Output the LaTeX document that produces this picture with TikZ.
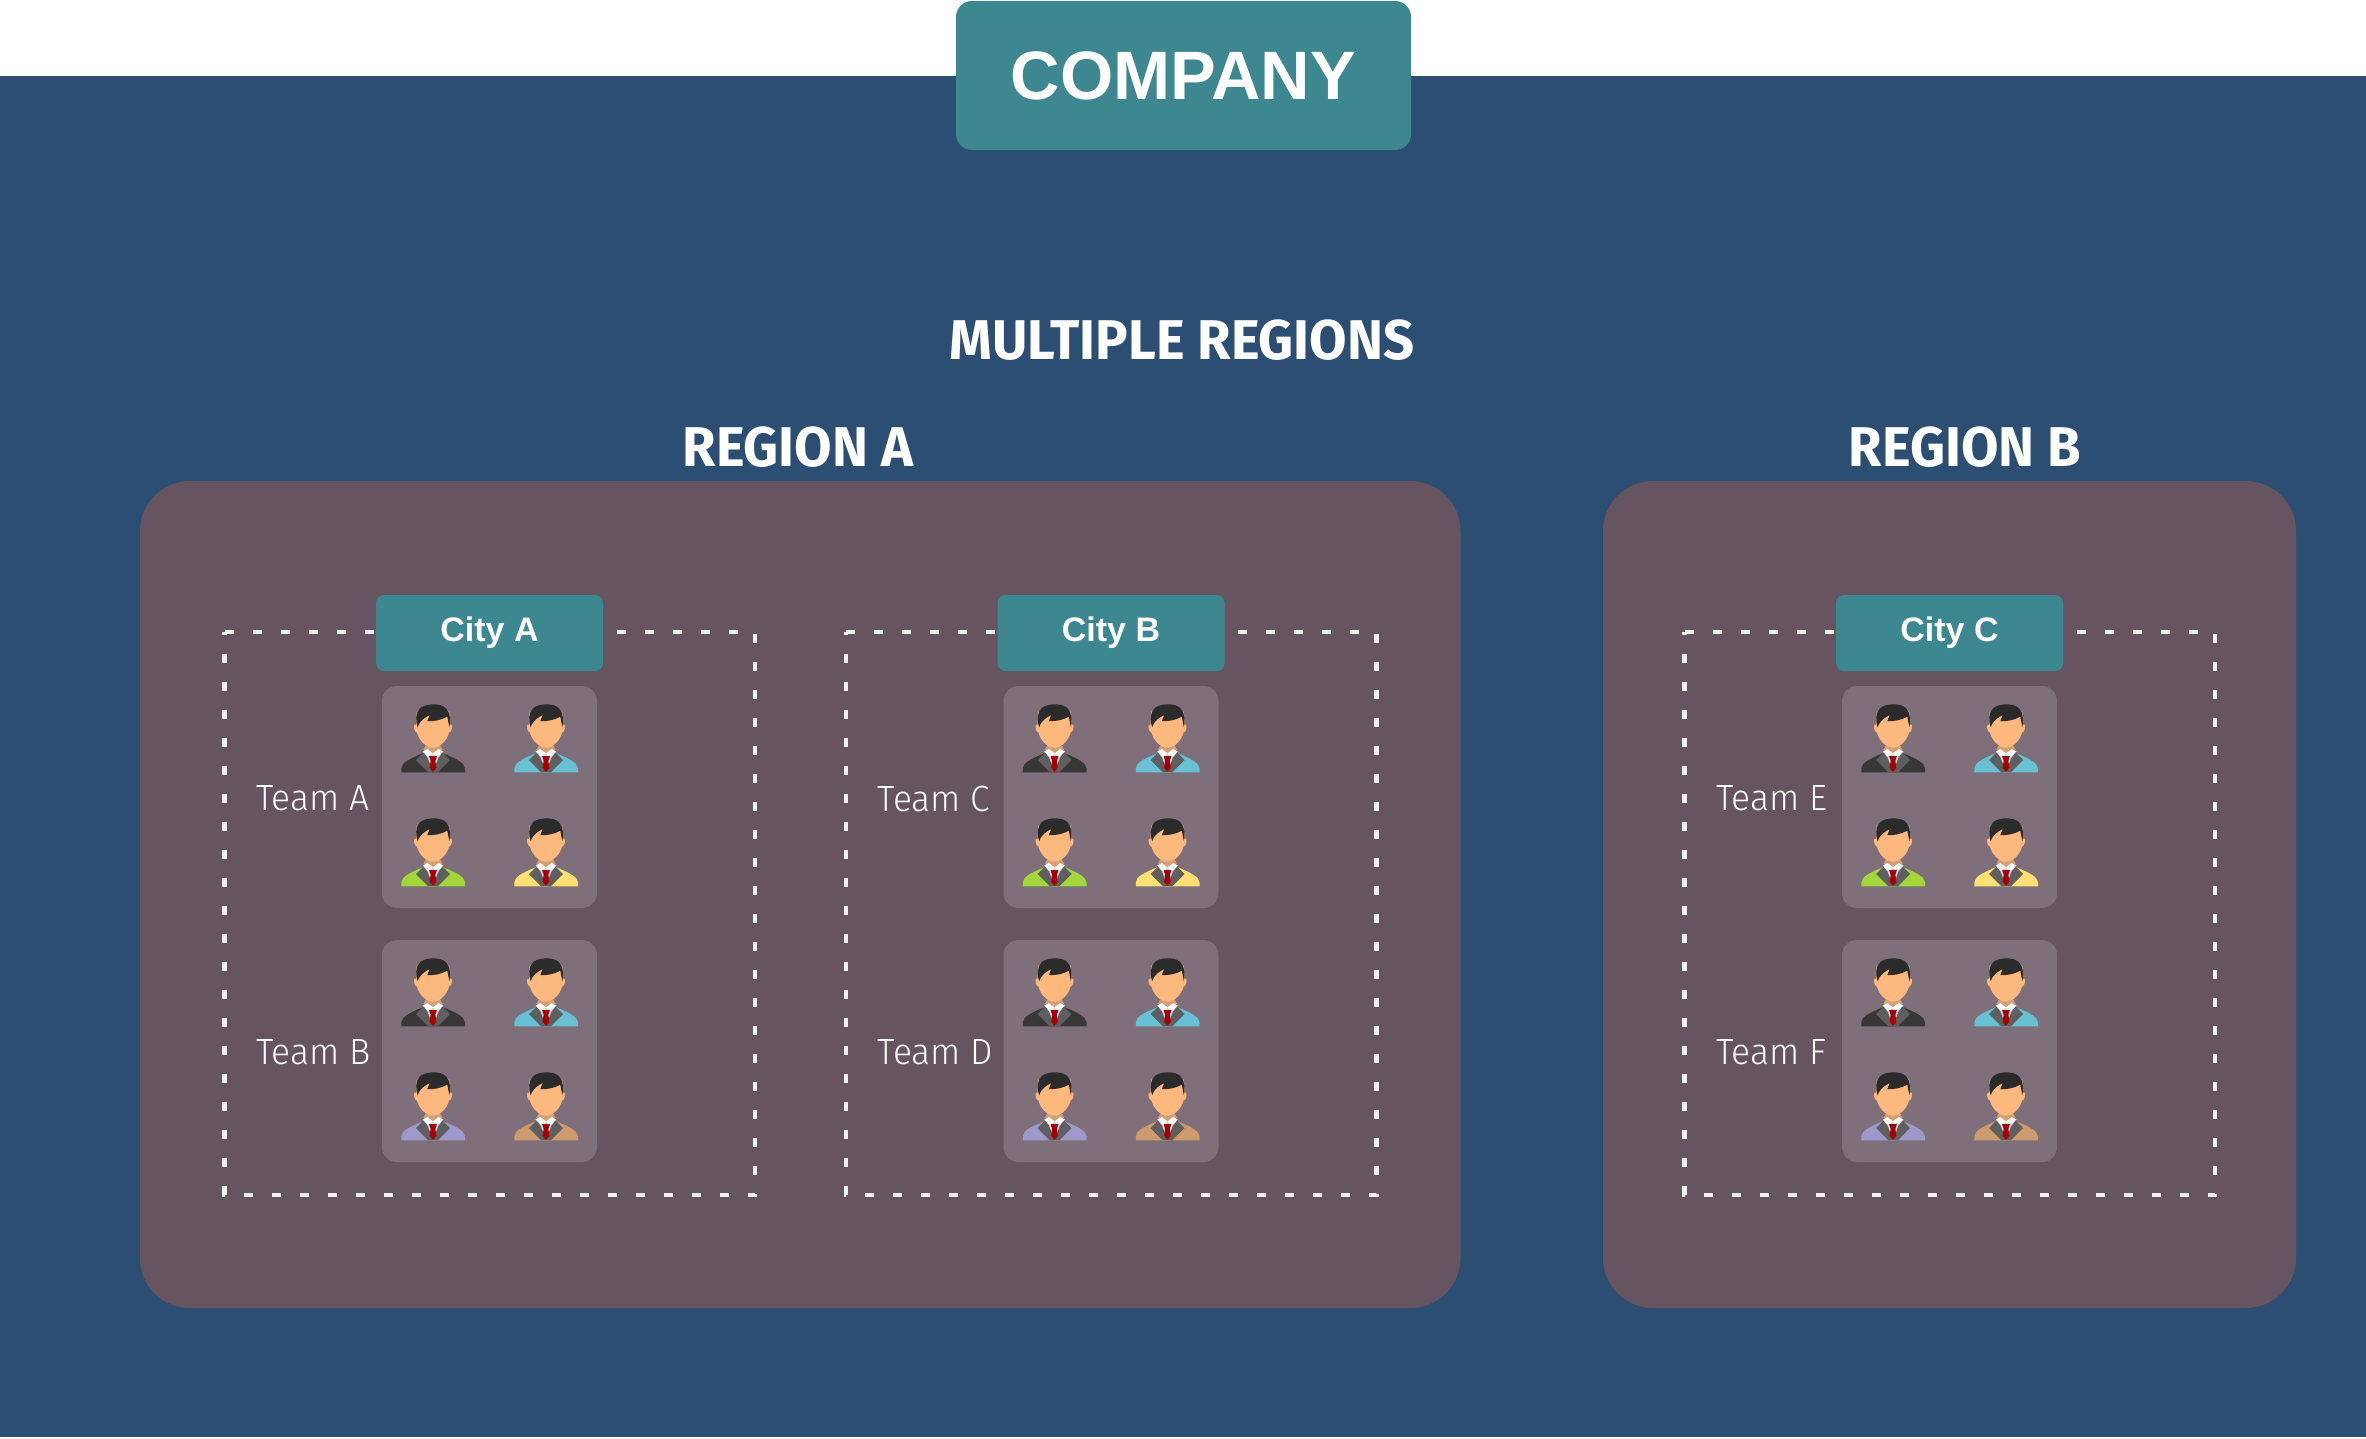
\documentclass[tikz,border=0pt]{standalone}
\usepackage{fontspec}
\setmainfont{Liberation Sans}
\newfontfamily\headfont{Fira Sans}[BoldFont={Fira Sans Bold},FakeStretch=0.97]
\newfontfamily\lightfont{Fira Sans Light}[FakeStretch=0.97]
\definecolor{bgblue}{HTML}{2C4E72}
\definecolor{regionc}{HTML}{665560}
\definecolor{cardc}{HTML}{7F6F7A}
\definecolor{tealc}{HTML}{3D8890}
\definecolor{dashc}{HTML}{F2F2F2}
\definecolor{suitdark}{HTML}{383637}
\definecolor{suitblue}{HTML}{67C0D4}
\definecolor{suitgreen}{HTML}{A2D639}
\definecolor{suityellow}{HTML}{FFE173}
\definecolor{suitpurple}{HTML}{9D99CC}
\definecolor{suittan}{HTML}{CE9B6F}
\definecolor{hairc}{HTML}{2B2B2B}
\definecolor{facec}{HTML}{FDB97D}
\definecolor{neckc}{HTML}{D59E73}
\definecolor{lapelc}{HTML}{5F5F5F}
\definecolor{shirtc}{HTML}{C7D5EE}
\definecolor{tiec}{HTML}{A80000}
\tikzset{
  x=1pt,y=-1pt,
  tealbox/.style={fill=tealc,draw=none,inner sep=0pt,text=white,font=\bfseries},
  headtext/.style={text=white,inner sep=0pt,font=\headfont\bfseries\fontsize{56}{62}\selectfont},
  teamtext/.style={text=white,inner sep=0pt,anchor=west,font=\lightfont\fontsize{36.5}{44}\selectfont},
  dashline/.style={draw=dashc,line width=4.3pt,dash pattern=on 9pt off 19pt},
  pics/person/.style={code={
    \begin{scope}[scale=0.33333,shift={(-189,-102)}]
      \fill[#1] (94,307) -- (94,295) .. controls (96,278) and (115,268) .. (158,250) -- (220,250) .. controls (263,268) and (282,278) .. (285,295) -- (285,307) -- cycle;
      \fill[shirtc] (165,250) -- (213,250) -- (210,275) -- (189,305) -- (168,275) -- cycle;
      \fill[lapelc] (138,270) -- (160,248) -- (172,262) -- (189,305) -- (175,307) -- cycle;
      \fill[lapelc] (240,270) -- (218,248) -- (206,262) -- (189,305) -- (203,307) -- cycle;
      \fill[neckc] (168,225) -- (210,225) -- (218,240) -- (189,252) -- (160,240) -- cycle;
      \fill[white] (158,245) -- (172,237) -- (189,250) -- (178,263) -- cycle;
      \fill[white] (220,245) -- (206,237) -- (189,250) -- (200,263) -- cycle;
      \fill[tiec] (177,258) -- (201,258) -- (196,272) -- (199,293) -- (189,306) -- (179,293) -- (182,272) -- cycle;
      \fill[facec] (140,125) -- (238,125) -- (240,165) .. controls (244,160) and (247,165) .. (246,172) .. controls (245,182) and (240,188) .. (237,188) .. controls (230,215) and (207,233) .. (189,233) .. controls (171,233) and (148,215) .. (141,188) .. controls (138,188) and (133,182) .. (132,172) .. controls (131,165) and (134,160) .. (138,165) -- cycle;
      \fill[hairc] (143,172) .. controls (137,155) and (135,130) .. (150,115) .. controls (165,100) and (213,98) .. (228,115) .. controls (243,130) and (241,155) .. (238,172) -- (232,140) .. controls (215,150) and (190,155) .. (172,153) -- (179,135) .. controls (165,143) and (150,150) .. (143,172) -- cycle;
    \end{scope}
  }},
}
% #1 x shift, #2 id, #3 city, #4 upper team, #5 lower team
\newcommand{\citygroup}[5]{
  \begin{scope}[xshift=#1pt]
    \coordinate (d1#2) at (224.5,632);
    \coordinate (d2#2) at (755,632);
    \coordinate (d3#2) at (755,1195);
    \coordinate (d4#2) at (224.5,1195);
    \draw[dashline] (d1#2) -- (d2#2) -- (d3#2) -- (d4#2) -- cycle;
    \node[tealbox,rounded corners=8pt,minimum width=227pt,minimum height=76pt,font=\bfseries\fontsize{34}{40}\selectfont] (city#2) at (489.5,633) {City #3};
    \fill[cardc,rounded corners=15pt] (382,686) rectangle (597,908);
    \fill[cardc,rounded corners=15pt] (382,940) rectangle (597,1162);
    \node[teamtext] (teamup#2) at (256,798.5) {Team #4};
    \node[teamtext] (teamlo#2) at (256,1052.5) {Team #5};
    \pic at (433,704) {person=suitdark};
    \pic at (546,704) {person=suitblue};
    \pic at (433,818) {person=suitgreen};
    \pic at (546,818) {person=suityellow};
    \pic at (433,958) {person=suitdark};
    \pic at (546,958) {person=suitblue};
    \pic at (433,1072) {person=suitpurple};
    \pic at (546,1072) {person=suittan};
  \end{scope}
}
\begin{document}
\begin{tikzpicture}
  \useasboundingbox (0,0) rectangle (2366,1438);
  \fill[white] (0,0) rectangle (2366,1438);
  \fill[bgblue] (0,75.5) rectangle (2366,1437);
  \node[tealbox,rounded corners=16pt,minimum width=455pt,minimum height=149pt,font=\bfseries\fontsize{68.5}{80}\selectfont] (company) at (1183.5,75.5) {COMPANY};
  \node[headtext] (multi) at (1182,340) {MULTIPLE REGIONS};
  \node[headtext] (rega) at (798,447) {REGION A};
  \node[headtext] (regb) at (1965,447) {REGION B};
  \fill[regionc,rounded corners=50pt] (140,481) rectangle (1460.5,1308);
  \fill[regionc,rounded corners=50pt] (1603,481) rectangle (2296,1308);
  \citygroup{0}{a}{A}{A}{B}
  \citygroup{621.5}{b}{B}{C}{D}
  \citygroup{1460}{c}{C}{E}{F}
\end{tikzpicture}
\end{document}
